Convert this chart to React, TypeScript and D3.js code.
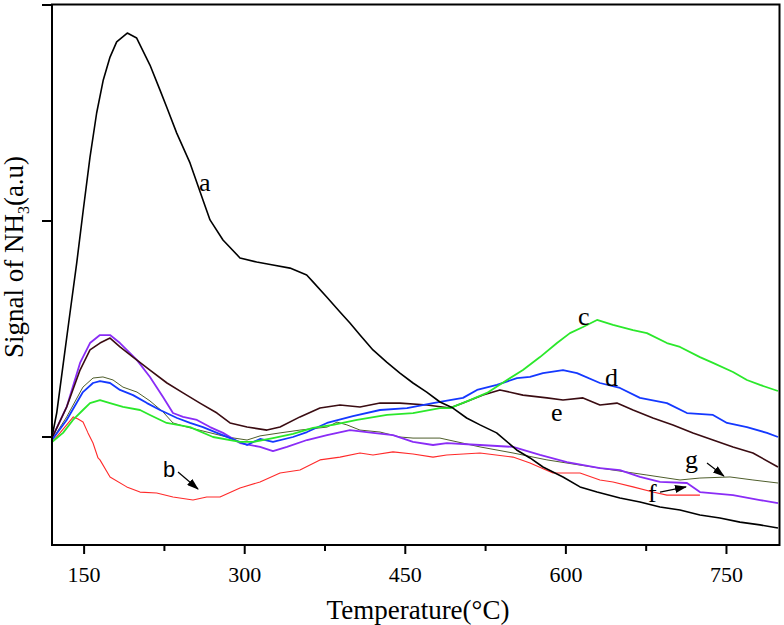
import React from "react";
import * as d3 from "d3";

type Pt = [number, number];

// Temperature (°C) vs NH3 signal (a.u.; baseline 0, tick spacing 100)
const curveA: Pt[] = [
  [120, 0], [124.4, 11.1], [130.6, 34.3], [136.8, 57.4], [143.1, 80.6], [149.2, 105.1], [155.5, 129.6],
  [161.7, 150], [167.9, 165.3], [174.2, 175.9], [180.4, 182.9], [190.3, 187], [199.1, 184.7], [211.5, 172.2],
  [220.9, 160.6], [227.1, 152.8], [236.5, 140.7], [248.9, 126.9], [261, 109.7], [267.6, 100.5], [279.7, 91.2],
  [295.6, 82.9], [311.2, 81], [326.4, 79.6], [342.3, 78.2], [357.9, 75], [363.8, 71.8], [376.6, 64.8],
  [389, 57.9], [398.3, 52.8], [407.7, 47.2], [419.8, 40.3], [432.6, 34.7], [445, 29.6], [457.2, 25],
  [470, 20.8], [482.4, 16.2], [494.5, 13.4], [507.3, 8.8], [519.8, 5.6], [535.3, 1.9], [554, -6],
  [566.5, -9.7], [578.6, -13.9], [597.3, -18.5], [613.2, -23.1], [629.1, -25.5], [650.5, -28.2],
  [669.2, -30.1], [687.9, -32.4], [706.6, -33.8], [725.2, -36.1], [743.9, -37.5], [762.6, -39.4],
  [781.3, -40.7], [798.1, -42.1],
];
const curveB: Pt[] = [
  [120, -2.3], [127.5, 1.9], [133.7, 5.6], [139.9, 9.3], [144.3, 8.3], [149, 6.9], [153.6, 1.9], [158.3, -2.8],
  [163, -9.7], [164.8, -10.6], [174.2, -18.5], [189.8, -23.1], [202.2, -25.5], [217.8, -25.9], [233, -27.8],
  [251.7, -29.2], [264.5, -27.8], [276.9, -27.8], [295.6, -23.6], [314.3, -20.8], [333, -16.7], [351.6, -15.3],
  [370.3, -10.6], [389, -9.3], [407.7, -7.4], [419.8, -8.3], [438.5, -6.9], [457.2, -7.9], [475.9, -9.3],
  [488.6, -8.3], [519.8, -7.4], [550.6, -9.3], [566.5, -12], [587.9, -16.7], [613.2, -16.7], [631.8, -19.9],
  [644, -20.8], [662.7, -23.1], [681.3, -25.5], [694.4, -26.9], [706.6, -26.9], [725.2, -26.9],
];
const curveC: Pt[] = [
  [120, -2.3], [130.3, 1.9], [139.6, 7.9], [148.9, 12.5], [155.5, 15.7], [164.8, 17.1], [174.2, 15.7],
  [186.3, 13.9], [202.2, 12.5], [211.5, 10.2], [227.1, 6.5], [248.9, 4.6], [270.4, 0], [295.6, -2.3],
  [307.7, -2.3], [326.4, -0.5], [345.1, 1.4], [363.8, 4.2], [382.5, 5.6], [404.9, 7.9], [432.9, 10.2],
  [457.2, 11.1], [482.4, 13.4], [491.7, 13.4], [510.4, 17.1], [526.3, 20.4], [545, 26.4], [559.9, 31],
  [575.8, 37], [591.7, 43.5], [603.8, 48.1], [616, 50.9], [629.1, 54.2], [644, 51.9], [662.7, 49.5],
  [675.7, 48.1], [694.4, 43.5], [706.6, 41.7], [725.2, 37], [737.4, 34.3], [756.1, 30.1], [769.1, 26.4],
  [781.3, 24.1], [798.1, 21.3],
];
const curveD: Pt[] = [
  [120, -1.4], [133.7, 7.9], [148.9, 20.8], [158.3, 25], [164.8, 25.9], [174.2, 25], [183.5, 21.8],
  [195.7, 19.4], [208.7, 15.7], [220.9, 12.5], [236.8, 8.8], [248.9, 6.5], [261, 4.6], [274.1, 1.9],
  [286.3, -0.5], [302.2, -3.7], [314.3, -0.9], [326.4, -2.3], [345.1, 0], [358.2, 2.3], [376.9, 6.5],
  [401.1, 9.7], [426.4, 12.5], [451.6, 13.4], [475.9, 15.7], [491.7, 17.1], [503.9, 18.1], [517, 21.8],
  [535.6, 24.1], [554.3, 27.3], [566.5, 27.8], [578.6, 29.6], [597.3, 31], [610.4, 29.6], [631.8, 25],
  [650.5, 22.7], [669.2, 18.1], [694.4, 15.7], [713.1, 11.1], [737.4, 10.2], [750.5, 6.5], [769.1, 4.6],
  [787.8, 1.9], [798.1, 0],
];
const curveE: Pt[] = [
  [120, -0.5], [133.7, 13.9], [146.2, 31], [155.5, 40.3], [164.8, 43.5], [174.2, 45.8], [183.5, 41.7],
  [195.7, 37], [211.5, 31], [227.4, 25], [242.4, 20.4], [258.2, 15.7], [274.1, 11.1], [286.3, 6.5],
  [302.2, 4.6], [320.8, 3.2], [333, 4.6], [351.6, 9.3], [370.3, 13.4], [389, 14.8], [407.7, 13.9],
  [426.4, 15.7], [445, 15.7], [470.3, 14.8], [491.7, 13.4], [503.9, 15.7], [522.6, 19.4], [538.4, 21.8],
  [559.9, 19.4], [582.3, 18.1], [597.3, 17.1], [616, 18.1], [631.8, 14.8], [647.7, 15.7], [662.7, 12.5],
  [681.3, 8.8], [700, 5.6], [718.7, 1.9], [737.4, -1.4], [756.1, -4.6], [774.7, -7.4], [798.1, -13.9],
];
const curveF: Pt[] = [
  [120, -0.5], [133.7, 13.9], [146.2, 34.3], [155.5, 43.5], [164.8, 47.2], [174.2, 47.2], [183.5, 43.5],
  [199.4, 35.6], [211.5, 27.8], [223.7, 18.5], [233, 11.1], [242.4, 9.3], [255.4, 7.9], [267.6, 4.6],
  [279.7, 1.9], [295.6, -2.8], [314.3, -4.6], [326.4, -6.5], [339.5, -4.6], [358.2, -1.4], [376.9, 0.9],
  [398.3, 3.2], [419.8, 1.9], [438.5, 0.9], [457.2, -2.3], [475.9, -3.7], [488.9, -2.8], [519.8, -3.7],
  [550.6, -4.6], [575.8, -8.3], [601, -11.6], [631.8, -14.4], [650.5, -15.3], [669.2, -18.5],
  [687.9, -20.8], [713.1, -21.3], [725.2, -25.5], [756.1, -26.9], [781.3, -29.2], [798.1, -30.6],
];
const curveG: Pt[] = [
  [120, -1.4], [133.7, 9.3], [148.9, 23.1], [158.3, 27.3], [167.6, 27.8], [177, 26.4], [186.3, 23.1],
  [199.4, 20.8], [211.5, 16.7], [223.7, 11.6], [233, 6.5], [246.1, 4.6], [264.8, 2.3], [283.5, 0],
  [302.2, -1.4], [314.3, 0.5], [333, 1.9], [351.6, 3.2], [376.9, 4.6], [386.2, 6.9], [395.5, 5.6],
  [407.7, 3.2], [426.4, 2.3], [445, 0], [457.2, -0.5], [482.4, -0.5], [519.8, -4.6], [550.6, -7.4],
  [582.3, -10.6], [613.2, -13], [644, -15.3], [675.7, -17.6], [706.6, -19.9], [725.2, -19], [753.3, -18.5],
  [774.7, -19.9], [798.1, -21.3],
];

const xMajorTicks = [150, 300, 450, 600, 750];
const xMinorTicks = [225, 375, 525, 675];
const yTicks = [0, 100, 200];

const series = [
  { name: "g", data: curveG, color: "#4f5e2c", width: 1.0 },
  { name: "b", data: curveB, color: "#ff2a2a", width: 1.1 },
  { name: "f", data: curveF, color: "#8a2cf6", width: 1.8 },
  { name: "e", data: curveE, color: "#3a0c12", width: 1.6 },
  { name: "d", data: curveD, color: "#1438ff", width: 1.8 },
  { name: "c", data: curveC, color: "#2be82b", width: 1.8 },
  { name: "a", data: curveA, color: "#000000", width: 1.6 },
];

const curveLabels = [
  { text: "a", t: 257.3, v: 113.9, serif: true },
  { text: "c", t: 611.3, v: 51.9, serif: true },
  { text: "d", t: 636.5, v: 23.6, serif: true },
  { text: "e", t: 586, v: 7.4, serif: true },
  { text: "f", t: 676.7, v: -30.1, serif: true },
  { text: "g", t: 711.2, v: -14.4, serif: true },
  { text: "b", t: 223.7, v: -18.5, serif: false },
];

const arrows = [
  { t0: 237.7, v0: -16.2, t1: 256.4, v1: -24.1 },
  { t0: 687.9, v0: -25.5, t1: 712.2, v1: -23.1 },
  { t0: 731.8, v0: -12, t1: 747.6, v1: -18.1 },
];

export default function App() {
  const W = 784, H = 625;
  const x = d3.scaleLinear().domain([120, 800]).range([52, 780]);
  const y = d3.scaleLinear().domain([-50, 200]).range([545, 5]);
  const line = d3.line<Pt>().x((d) => x(d[0])).y((d) => y(d[1])).curve(d3.curveLinear);
  const serif = "'Liberation Serif', 'Times New Roman', serif";
  const sans = "'Liberation Sans', Arial, sans-serif";

  return (
    <svg width={W} height={H} style={{ position: "absolute", left: 0, top: 0, background: "#fff" }}>
      <defs>
        <marker id="ah" viewBox="0 0 12 8" refX="11" refY="4" markerWidth="12" markerHeight="8"
          markerUnits="userSpaceOnUse" orient="auto">
          <path d="M0,0 L12,4 L0,8 Z" fill="#000" />
        </marker>
        <clipPath id="plot">
          <rect x={52} y={5} width={728} height={540} />
        </clipPath>
      </defs>
      <g clipPath="url(#plot)">
        {series.map((s) => (
          <path key={s.name} d={line(s.data) || ""} fill="none" stroke={s.color}
            strokeWidth={s.width} strokeLinejoin="round" />
        ))}
      </g>
      {/* frame */}
      <rect x={52} y={4.5} width={727.5} height={540.5} fill="none" stroke="#000" strokeWidth={2} />
      {xMajorTicks.map((t) => (
        <g key={t}>
          <line x1={x(t)} x2={x(t)} y1={545} y2={554} stroke="#000" strokeWidth={2} />
          <text x={x(t)} y={582} textAnchor="middle" fontFamily={serif} fontSize={22}>{t}</text>
        </g>
      ))}
      {xMinorTicks.map((t) => (
        <line key={t} x1={x(t)} x2={x(t)} y1={545} y2={551} stroke="#000" strokeWidth={2} />
      ))}
      {yTicks.map((v) => (
        <line key={v} x1={42} x2={52} y1={y(v)} y2={y(v)} stroke="#000" strokeWidth={2} />
      ))}
      <text x={418} y={619} textAnchor="middle" fontFamily={serif} fontSize={27}>Temperature(°C)</text>
      <text transform="translate(23,257) rotate(-90)" textAnchor="middle" fontFamily={serif} fontSize={27}>
        Signal of NH<tspan fontSize={16} dy={6}>3</tspan><tspan dy={-6}>(a.u)</tspan>
      </text>
      {curveLabels.map((l) => (
        <text key={l.text} x={x(l.t)} y={y(l.v)} fontFamily={l.serif ? serif : sans}
          fontSize={l.serif ? 26 : 22}>{l.text}</text>
      ))}
      {arrows.map((a, i) => (
        <line key={i} x1={x(a.t0)} y1={y(a.v0)} x2={x(a.t1)} y2={y(a.v1)} stroke="#000"
          strokeWidth={1.2} markerEnd="url(#ah)" />
      ))}
    </svg>
  );
}
